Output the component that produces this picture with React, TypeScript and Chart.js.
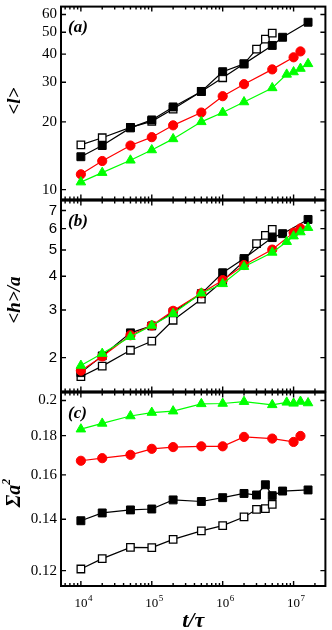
import React, { useEffect, useRef } from 'react';
import { Chart, registerables } from 'chart.js';

Chart.register(...registerables);

// ---- shared x range (t/tau) ----
const X_MIN = 5244;
const X_MAX = 2.81e7;
const X_MAJOR = [1e4, 1e5, 1e6, 1e7];
const X_EXP = ['4', '5', '6', '7'];

// ---- panel (a): <l> ----
const filledA_x = [1e4, 2e4, 5e4, 1e5, 2e5, 5e5, 1e6, 2e6, 5e6, 7e6, 1.6e7];
const filledA_y = [14.0, 15.7, 18.8, 20.4, 23.3, 27.3, 33.4, 36.2, 43.7, 47.5, 55.4];
const openA_x = [1e4, 2e4, 5e4, 1e5, 2e5, 5e5, 1e6, 2e6, 3e6, 4e6, 5e6];
const openA_y = [15.8, 17.0, 18.9, 20.1, 22.8, 27.3, 31.4, 36.2, 42.1, 46.6, 49.6];
const redA_x = [1e4, 2e4, 5e4, 1e5, 2e5, 5e5, 1e6, 2e6, 5e6, 1e7, 1.25e7];
const redA_y = [11.7, 13.4, 15.7, 17.1, 19.3, 22.0, 26.0, 29.4, 34.2, 38.7, 41.1];
const greenA_x = [1e4, 2e4, 5e4, 1e5, 2e5, 5e5, 1e6, 2e6, 5e6, 8e6, 1e7, 1.25e7, 1.6e7];
const greenA_y = [10.8, 11.9, 13.5, 15.0, 16.8, 20.0, 22.0, 24.5, 28.3, 32.5, 33.3, 34.5, 36.2];
const yTicksA = [10, 20, 30, 40, 50, 60];
const yLabelsA = ['10', '20', '30', '40', '50', '60'];

// ---- panel (b): <h>/a ----
const filledB_x = [1e4, 2e4, 5e4, 1e5, 2e5, 5e5, 1e6, 2e6, 5e6, 7e6, 1.6e7];
const filledB_y = [1.76, 2.03, 2.47, 2.62, 2.95, 3.45, 4.12, 4.65, 5.56, 5.75, 6.49];
const openB_x = [1e4, 2e4, 5e4, 1e5, 2e5, 5e5, 1e6, 2e6, 3e6, 4e6, 5e6];
const openB_y = [1.7, 1.86, 2.13, 2.3, 2.75, 3.29, 3.84, 4.55, 5.28, 5.67, 5.96];
const redB_x = [1e4, 2e4, 5e4, 1e5, 2e5, 5e5, 1e6, 2e6, 5e6, 1e7, 1.25e7];
const redB_y = [1.79, 2.02, 2.42, 2.63, 2.98, 3.46, 3.87, 4.4, 5.02, 5.8, 6.01];
const greenB_x = [1e4, 2e4, 5e4, 1e5, 2e5, 5e5, 1e6, 2e6, 5e6, 8e6, 1e7, 1.25e7, 1.6e7];
const greenB_y = [1.87, 2.07, 2.39, 2.63, 2.91, 3.46, 3.75, 4.34, 4.9, 5.37, 5.63, 5.83, 6.05];
const yTicksB = [2, 3, 4, 5, 6, 7];
const yLabelsB = ['2', '3', '4', '5', '6', '7'];

// ---- panel (c): Sigma a^2 ----
const filledC_x = [1e4, 2e4, 5e4, 1e5, 2e5, 5e5, 1e6, 2e6, 3e6, 4e6, 5e6, 7e6, 1.6e7];
const filledC_y = [0.1394, 0.1427, 0.144, 0.1444, 0.1484, 0.1477, 0.1494, 0.1513, 0.1506, 0.1553, 0.1503, 0.1524, 0.1529];
const openC_x = [1e4, 2e4, 5e4, 1e5, 2e5, 5e5, 1e6, 2e6, 3e6, 4e6, 5e6];
const openC_y = [0.1206, 0.1244, 0.1287, 0.1286, 0.1318, 0.1352, 0.1374, 0.141, 0.1442, 0.1446, 0.1464];
const redC_x = [1e4, 2e4, 5e4, 1e5, 2e5, 5e5, 1e6, 2e6, 5e6, 1e7, 1.25e7];
const redC_y = [0.1669, 0.1682, 0.1699, 0.173, 0.1739, 0.1743, 0.1743, 0.1793, 0.1784, 0.1766, 0.1798];
const greenC_x = [1e4, 2e4, 5e4, 1e5, 2e5, 5e5, 1e6, 2e6, 5e6, 8e6, 1e7, 1.25e7, 1.6e7];
const greenC_y = [0.1835, 0.1867, 0.1909, 0.1929, 0.1937, 0.198, 0.1982, 0.1993, 0.1974, 0.1989, 0.1983, 0.1994, 0.1985];
const yTicksC = [0.12, 0.14, 0.16, 0.18, 0.2];
const yLabelsC = ['0.12', '0.14', '0.16', '0.18', '0.2'];

const GREEN = '#00ff00';
const RED = '#ff0000';
const BLACK = '#000000';

type TitlePart = { text: string; size: number; raise: number };

type PanelSpec = {
  top: number;
  height: number;
  padTop: number;
  padBottom: number;
  yMin: number;
  yMax: number;
  yTicks: number[];
  yLabels: string[];
  tickFont: string;
  label: string;
  title: TitlePart[];
  titleY: number;
  showX: boolean;
  datasets: any[];
};

const pts = (xs: number[], ys: number[]) => xs.map((x, i) => ({ x, y: ys[i] }));

function makeDatasets(
  fx: number[], fy: number[], ox: number[], oy: number[],
  rx: number[], ry: number[], gx: number[], gy: number[]
) {
  return [
    {
      label: 'green', data: pts(gx, gy), showLine: true, borderColor: GREEN, borderWidth: 1.2,
      pointStyle: 'triangle', pointRadius: 5.5, pointBackgroundColor: GREEN, pointBorderColor: GREEN, pointBorderWidth: 1,
    },
    {
      label: 'red', data: pts(rx, ry), showLine: true, borderColor: RED, borderWidth: 1.2,
      pointStyle: 'circle', pointRadius: 4.6, pointBackgroundColor: RED, pointBorderColor: RED, pointBorderWidth: 1,
    },
    {
      label: 'filled', data: pts(fx, fy), showLine: true, borderColor: BLACK, borderWidth: 1.2,
      pointStyle: 'rect', pointRadius: 5.6, pointBackgroundColor: BLACK, pointBorderColor: BLACK, pointBorderWidth: 1,
    },
    {
      label: 'open', data: pts(ox, oy), showLine: true, borderColor: BLACK, borderWidth: 1.2,
      pointStyle: 'rect', pointRadius: 5.3, pointBackgroundColor: '#ffffff', pointBorderColor: BLACK, pointBorderWidth: 1.3,
    },
  ];
}

const SERIF = '"Liberation Serif", "Times New Roman", serif';
const SANS = '"Liberation Sans", Arial, sans-serif';

const panels: PanelSpec[] = [
  {
    top: 0, height: 206, padTop: 2, padBottom: 6,
    yMin: 9.05, yMax: 65.0, yTicks: yTicksA, yLabels: yLabelsA, tickFont: SERIF,
    label: '(a)', title: [{ text: '<l>', size: 19, raise: 0 }], titleY: 101, showX: false,
    datasets: makeDatasets(filledA_x, filledA_y, openA_x, openA_y, redA_x, redA_y, greenA_x, greenA_y),
  },
  {
    top: 194, height: 204, padTop: 6, padBottom: 6,
    yMin: 1.5, yMax: 7.62, yTicks: yTicksB, yLabels: yLabelsB, tickFont: SANS,
    label: '(b)', title: [{ text: '<h>/a', size: 19, raise: 0 }], titleY: 106, showX: false,
    datasets: makeDatasets(filledB_x, filledB_y, openB_x, openB_y, redB_x, redB_y, greenB_x, greenB_y),
  },
  {
    top: 386, height: 244, padTop: 6, padBottom: 44,
    yMin: 0.1146, yMax: 0.2048, yTicks: yTicksC, yLabels: yLabelsC, tickFont: SERIF,
    label: '(c)', title: [{ text: '\u03A3a', size: 20, raise: 0 }, { text: '2', size: 12, raise: 8 }], titleY: 107, showX: true,
    datasets: makeDatasets(filledC_x, filledC_y, openC_x, openC_y, redC_x, redC_y, greenC_x, greenC_y),
  },
];

function decorPlugin(spec: PanelSpec) {
  return {
    id: 'decor',
    afterDraw(chart: any) {
      const ctx: CanvasRenderingContext2D = chart.ctx;
      const a = chart.chartArea;
      const xs = chart.scales.x;
      const ys = chart.scales.y;
      ctx.save();
      ctx.strokeStyle = BLACK;
      ctx.fillStyle = BLACK;
      // ticks
      ctx.lineWidth = 1.4;
      ctx.beginPath();
      for (let e = 3; e <= 7; e++) {
        for (let k = 1; k <= 9; k++) {
          const v = k * Math.pow(10, e);
          if (v < X_MIN || v > X_MAX) continue;
          const px = xs.getPixelForValue(v);
          const len = k === 1 ? 5 : 3;
          ctx.moveTo(px, a.top);
          ctx.lineTo(px, a.top + len);
          ctx.moveTo(px, a.bottom);
          ctx.lineTo(px, a.bottom - len);
        }
      }
      for (const v of spec.yTicks) {
        const py = ys.getPixelForValue(v);
        ctx.moveTo(a.left, py);
        ctx.lineTo(a.left + 5, py);
        ctx.moveTo(a.right, py);
        ctx.lineTo(a.right - 5, py);
      }
      ctx.stroke();
      // frame
      ctx.lineWidth = 2;
      ctx.strokeRect(a.left, a.top, a.right - a.left, a.bottom - a.top);
      // panel label
      ctx.font = `bold italic 17px ${SERIF}`;
      ctx.textAlign = 'left';
      ctx.textBaseline = 'alphabetic';
      ctx.fillText(spec.label, a.left + 7, a.top + 25);
      // y title (rotated)
      ctx.save();
      ctx.translate(15, spec.titleY);
      ctx.rotate(-Math.PI / 2);
      let total = 0;
      const widths: number[] = [];
      for (const p of spec.title) {
        ctx.font = `bold italic ${p.size}px ${SERIF}`;
        const w = ctx.measureText(p.text).width;
        widths.push(w);
        total += w;
      }
      let cx = -total / 2;
      ctx.textBaseline = 'middle';
      spec.title.forEach((p, i) => {
        ctx.font = `bold italic ${p.size}px ${SERIF}`;
        ctx.fillText(p.text, cx, -p.raise);
        cx += widths[i];
      });
      ctx.restore();
      // x labels and title
      if (spec.showX) {
        ctx.textBaseline = 'alphabetic';
        X_MAJOR.forEach((v, i) => {
          const px = xs.getPixelForValue(v);
          ctx.font = `13px ${SERIF}`;
          ctx.textAlign = 'center';
          const w = ctx.measureText('10').width;
          ctx.fillText('10', px, a.bottom + 21);
          ctx.font = `9px ${SERIF}`;
          ctx.textAlign = 'left';
          ctx.fillText(X_EXP[i], px + w / 2 + 0.5, a.bottom + 15);
        });
        ctx.font = `bold italic 22px ${SERIF}`;
        ctx.textAlign = 'center';
        ctx.fillText('t/\u03C4', (a.left + a.right) / 2, a.bottom + 41);
      }
      ctx.restore();
    },
  };
}

function Panel({ spec }: { spec: PanelSpec }) {
  const ref = useRef<HTMLCanvasElement | null>(null);
  useEffect(() => {
    if (!ref.current) return;
    const chart = new Chart(ref.current, {
      type: 'scatter',
      data: { datasets: spec.datasets },
      options: {
        responsive: false,
        maintainAspectRatio: false,
        animation: false,
        devicePixelRatio: 1,
        layout: { padding: { top: spec.padTop, bottom: spec.padBottom, left: 0, right: 5 } },
        plugins: { legend: { display: false }, tooltip: { enabled: false } },
        scales: {
          x: {
            type: 'logarithmic',
            min: X_MIN,
            max: X_MAX,
            bounds: 'data',
            display: false,
          },
          y: {
            type: 'logarithmic',
            position: 'left',
            min: spec.yMin,
            max: spec.yMax,
            bounds: 'data',
            grid: { display: false, drawTicks: false },
            border: { display: false },
            afterBuildTicks: (s: any) => {
              s.ticks = spec.yTicks.map((v) => ({ value: v }));
            },
            afterFit: (s: any) => {
              s.width = 61;
              s.paddingTop = 0;
              s.paddingBottom = 0;
            },
            ticks: {
              autoSkip: false,
              padding: 4,
              color: BLACK,
              font: { family: spec.tickFont, size: 15 },
              callback: (_v: any, i: number) => spec.yLabels[i],
            },
          },
        },
      } as any,
      plugins: [decorPlugin(spec)],
    });
    return () => chart.destroy();
  }, [spec]);
  return (
    <canvas
      ref={ref}
      width={332}
      height={spec.height}
      style={{ position: 'absolute', left: 0, top: spec.top, display: 'block' }}
    />
  );
}

export default function App() {
  return (
    <div style={{ position: 'absolute', left: 0, top: 0, width: 332, height: 630, background: '#fff' }}>
      {panels.map((p) => (
        <Panel key={p.label} spec={p} />
      ))}
    </div>
  );
}
